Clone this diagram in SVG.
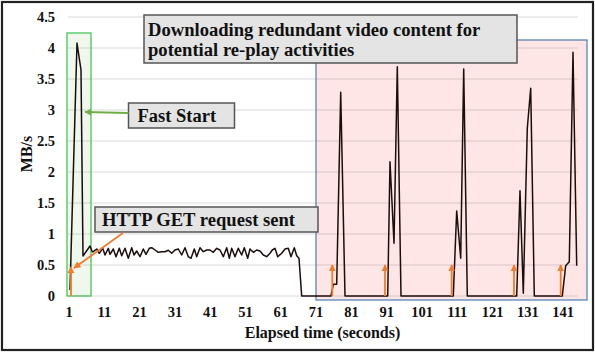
<svg xmlns="http://www.w3.org/2000/svg" width="595" height="354" viewBox="0 0 595 354">
<defs>
<style>
.t{font-family:"Liberation Serif","Times New Roman",serif;font-weight:bold;fill:#111}
.yl{font-size:14.5px;text-anchor:end}
.xl{font-size:14.5px;text-anchor:middle}
.grid line{stroke:#d9d9d9;stroke-width:1.2}
.box{fill:#e4e4e4;stroke:#555;stroke-width:1.5}
.or{stroke:#ed7d31;stroke-width:1.8;fill:none}
</style>
<marker id="ao" viewBox="0 0 10 10" refX="9" refY="5" markerWidth="4" markerHeight="4" orient="auto"><path d="M0,0L10,5L0,10z" fill="#ed7d31"/></marker>
<marker id="ag" viewBox="0 0 10 10" refX="9" refY="5" markerWidth="3.5" markerHeight="3.5" orient="auto"><path d="M0,0L10,5L0,10z" fill="#70ad47"/></marker>
</defs>
<rect x="0" y="0" width="595" height="354" fill="#fff"/>
<rect x="2" y="2" width="591" height="348" fill="none" stroke="#222" stroke-width="2.2"/>
<g class="grid">
<line x1="68" y1="17" x2="578" y2="17"/>
<line x1="68" y1="48" x2="578" y2="48"/>
<line x1="68" y1="79" x2="578" y2="79"/>
<line x1="68" y1="110" x2="578" y2="110"/>
<line x1="68" y1="141" x2="578" y2="141"/>
<line x1="68" y1="172" x2="578" y2="172"/>
<line x1="68" y1="203" x2="578" y2="203"/>
<line x1="68" y1="234" x2="578" y2="234"/>
<line x1="68" y1="265" x2="578" y2="265"/>
<line x1="68" y1="296" x2="578" y2="296"/>
</g>
<g id="ylabels" class="t yl">
<text x="55" y="22">4.5</text>
<text x="55" y="53">4</text>
<text x="55" y="84">3.5</text>
<text x="55" y="115">3</text>
<text x="55" y="146">2.5</text>
<text x="55" y="177">2</text>
<text x="55" y="208">1.5</text>
<text x="55" y="239">1</text>
<text x="55" y="270">0.5</text>
<text x="55" y="301">0</text>
</g>
<g id="xlabels" class="t xl">
<text x="69" y="317">1</text>
<text x="104.3" y="317">11</text>
<text x="139.6" y="317">21</text>
<text x="174.9" y="317">31</text>
<text x="210.2" y="317">41</text>
<text x="245.5" y="317">51</text>
<text x="280.8" y="317">61</text>
<text x="316.1" y="317">71</text>
<text x="351.4" y="317">81</text>
<text x="386.7" y="317">91</text>
<text x="422" y="317">101</text>
<text x="457.3" y="317">111</text>
<text x="492.6" y="317">121</text>
<text x="527.9" y="317">131</text>
<text x="563.2" y="317">141</text>
</g>
<text class="t" x="322.5" y="338" font-size="16" text-anchor="middle">Elapsed time (seconds)</text>
<text class="t" transform="translate(32,154) rotate(-90)" font-size="16" text-anchor="middle">MB/s</text>
<g id="fast-start-region">
<rect x="67" y="33" width="24" height="263" fill="#70ad47" fill-opacity="0.1" stroke="#4cc45a" stroke-width="1.3"/>
</g>
<g id="redundant-region">
<rect x="316" y="40" width="271" height="260" fill="#ff1a1a" fill-opacity="0.11" stroke="#5b84b8" stroke-width="1.3"/>
</g>
<g id="series">
<polyline fill="none" stroke="#1a0d0d" stroke-width="1.5" stroke-linejoin="round" points="70,290 77,43 81,70 83,256 90,246 92.3,251.7 93.3,251.7 96.7,249 99.3,253.3 102.7,248.3 105,255 108.3,248.3 110,254.3 113.3,249 116,256.7 119.3,248.3 121.7,255.7 125,248.3 128.3,258.3 131.7,247.7 134,255 136.7,251 140,256.7 143.3,249 146,254.3 149.3,248.3 151.7,247.7 155,250 158.3,252.3 161.7,251.7 165,251.7 168.3,250.3 171.7,253.3 175,250 178.3,249 181.7,255 185,247.7 188.3,256.7 191,258.3 194.3,249 196.7,256.7 200,247.7 203.3,251.7 206.7,250 210,250 213.3,252.3 216.7,248.3 220,250 223.3,256.7 226.7,247.7 229.3,258.3 231.7,248.3 235,256.7 238.3,248.3 241.7,255 244.3,247.7 247.7,258.3 250,249 253.3,252.3 256.7,250 260,251 263.3,255 266.7,256.7 270,253.3 272.3,250 275,248.3 277.7,256.7 281.7,253.3 285,249 288.3,248.3 291,256.7 294.3,247.7 296.7,255.7 299,258.3 301.7,296 331,296 333.3,284.3 336.7,284.3 340.7,92.3 345,296 387.7,296 390,161.7 394,243.3 397.3,66.7 401,296 453.3,296 456.7,211 460.7,258.3 463.7,69 467.3,296 516.7,296 520,190.7 523.3,293.3 527.3,128.3 530.7,88.3 534.3,296 562.3,296 565.7,265.7 569.3,261.7 573,52.3 576.7,265.7"/>
</g>
<g id="request-arrows">
<line class="or" x1="71" y1="296" x2="71" y2="267" marker-end="url(#ao)"/>
<line class="or" x1="332.3" y1="296" x2="332.3" y2="265" marker-end="url(#ao)"/>
<line class="or" x1="385" y1="296" x2="385" y2="265" marker-end="url(#ao)"/>
<line class="or" x1="451.7" y1="296" x2="451.7" y2="265" marker-end="url(#ao)"/>
<line class="or" x1="514" y1="296" x2="514" y2="265" marker-end="url(#ao)"/>
<line class="or" x1="560.7" y1="296" x2="560.7" y2="265" marker-end="url(#ao)"/>
</g>
<g id="title-box">
<rect class="box" x="144" y="15" width="373" height="48"/>
<text class="t" x="148" y="36" font-size="18.6">Downloading redundant video content for</text>
<text class="t" x="148" y="56" font-size="18.6">potential re-play activities</text>
</g>
<g id="fast-start-label">
<rect class="box" x="128.5" y="103" width="106" height="25"/>
<text class="t" x="137.5" y="122" font-size="18.5">Fast Start</text>
</g>
<g id="http-label">
<rect class="box" x="95" y="207" width="223" height="25"/>
<text class="t" x="102" y="225.5" font-size="18.6">HTTP GET request sent</text>
</g>
<g id="connectors">
<line x1="128.5" y1="113" x2="85" y2="112" stroke="#70ad47" stroke-width="2" marker-end="url(#ag)"/>
<line class="or" x1="123" y1="233" x2="74" y2="268" marker-end="url(#ao)"/>
</g>
</svg>
